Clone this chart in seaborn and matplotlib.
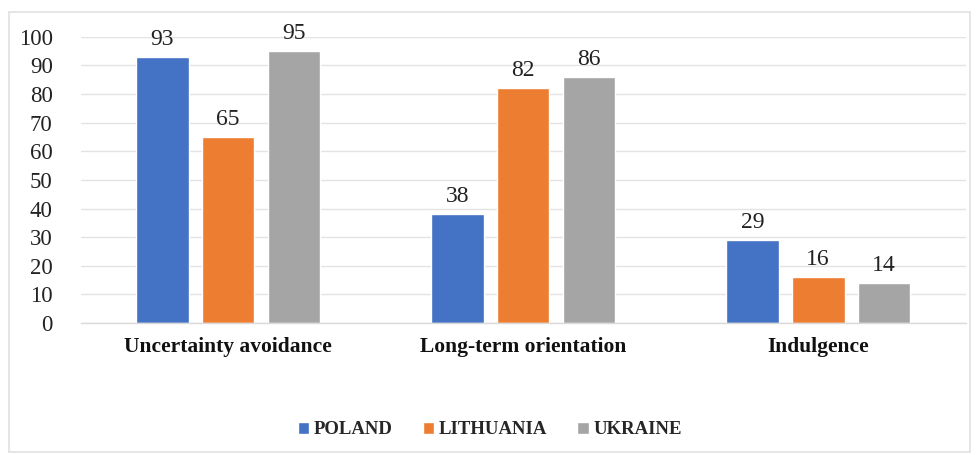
import matplotlib
matplotlib.use("Agg")
import matplotlib.pyplot as plt
import seaborn as sns
import pandas as pd
from matplotlib.patches import Rectangle

# Hofstede cultural dimension scores
dimensions = ["Uncertainty avoidance", "Long-term orientation", "Indulgence"]
countries = ["POLAND", "LITHUANIA", "UKRAINE"]
poland = [93, 38, 29]
lithuania = [65, 82, 16]
ukraine = [95, 86, 14]
y_ticks = [0, 10, 20, 30, 40, 50, 60, 70, 80, 90, 100]

palette = ["#4472C4", "#ED7D31", "#A5A5A5"]

df = pd.DataFrame({
    "dimension": dimensions * 3,
    "country": [c for c in countries for _ in dimensions],
    "score": poland + lithuania + ukraine,
})

sns.set_theme(style="white")
plt.rcParams["font.family"] = ["Liberation Serif", "DejaVu Serif"]

fig = plt.figure(figsize=(9.76, 4.55), dpi=100)
ax = fig.add_axes([0.0825, 0.29, 0.907, 0.629])

sns.barplot(data=df, x="dimension", y="score", hue="country",
            order=dimensions, hue_order=countries, palette=palette,
            width=0.67, gap=0.2, saturation=1, legend=True, ax=ax)

for container in ax.containers:
    ax.bar_label(container, padding=5, fontsize=17, color="#222222")

ax.set_ylim(0, 100)
ax.set_xlim(-0.5, 2.5)
ax.set_yticks(y_ticks)
ax.set_yticklabels([str(t) for t in y_ticks], fontsize=16.5, color="#222222")
ax.tick_params(axis="y", length=0, pad=20)
ax.tick_params(axis="x", length=0, pad=10)
for lbl in ax.get_xticklabels():
    lbl.set_fontsize(15.5)
    lbl.set_fontweight("bold")
    lbl.set_color("#111111")
ax.set_xlabel("")
ax.set_ylabel("")
ax.grid(axis="y", color="#E3E3E3", linewidth=1)
ax.set_axisbelow(True)
for side in ["left", "right", "top"]:
    ax.spines[side].set_visible(False)
ax.spines["bottom"].set_color("#D9D9D9")
ax.spines["bottom"].set_linewidth(1)

handles, labels = ax.get_legend_handles_labels()
ax.get_legend().remove()
fig.legend(handles, labels, loc="center", bbox_to_anchor=(0.502, 0.055),
           ncol=3, frameon=False, handlelength=0.6, handleheight=0.6,
           handletextpad=0.25, columnspacing=1.6,
           prop={"family": ["Liberation Serif"], "weight": "bold", "size": 13.5})

# light frame around the chart area
fig.patches.append(Rectangle((0.009, 0.007), 0.985, 0.966, transform=fig.transFigure,
                             fill=False, edgecolor="#E0E0E0", linewidth=1.2))

fig.savefig("out.png", dpi=100)
